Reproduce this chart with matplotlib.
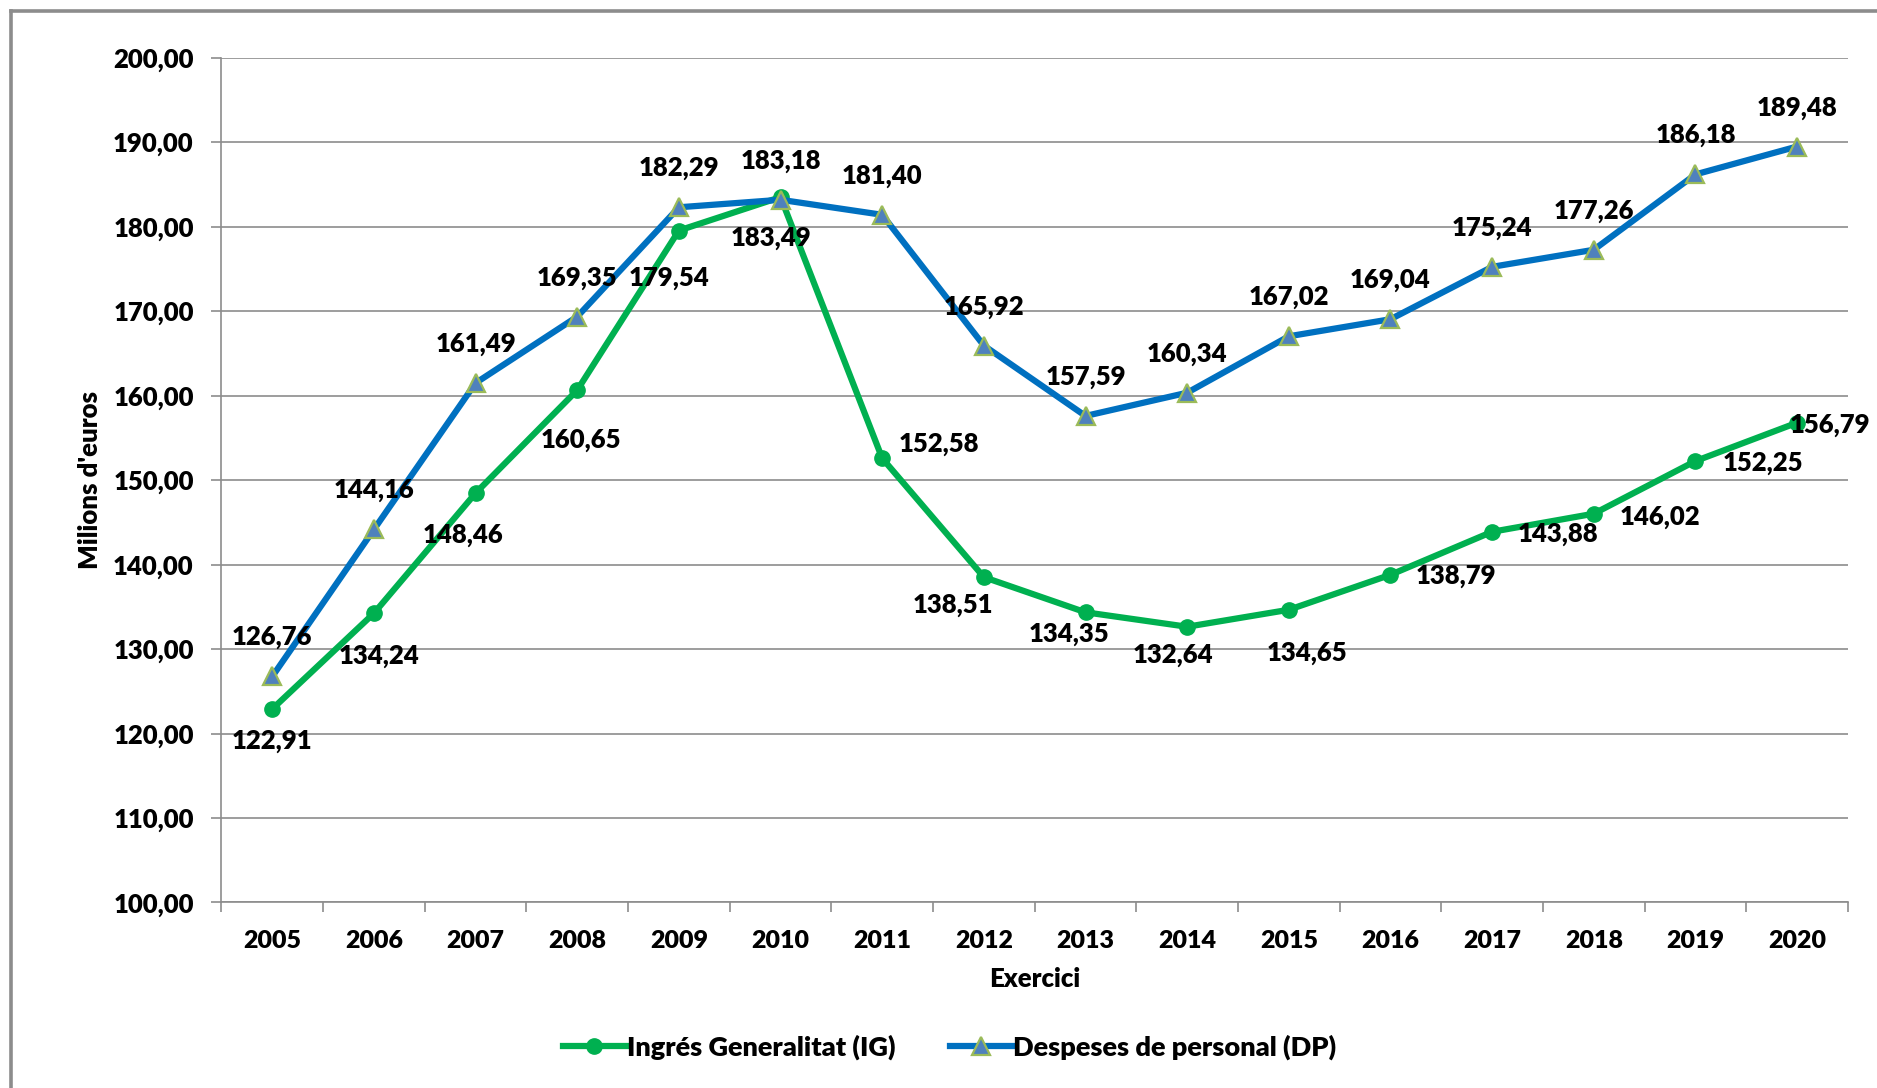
import numpy as np
import matplotlib
matplotlib.use('Agg')
import matplotlib.pyplot as plt
from matplotlib.lines import Line2D

plt.rcParams['font.family'] = ['Lato', 'DejaVu Sans']
W = 'heavy'
FS = 18.5

years = ['2005', '2006', '2007', '2008', '2009', '2010', '2011', '2012',
         '2013', '2014', '2015', '2016', '2017', '2018', '2019', '2020']
ingres_ig = [122.91, 134.24, 148.46, 160.65, 179.54, 183.49, 152.58, 138.51,
             134.35, 132.64, 134.65, 138.79, 143.88, 146.02, 152.25, 156.79]
despeses_dp = [126.76, 144.16, 161.49, 169.35, 182.29, 183.18, 181.40, 165.92,
               157.59, 160.34, 167.02, 169.04, 175.24, 177.26, 186.18, 189.48]

# label offsets (pixels) for the IG series, placed by hand in the original
ig_off = [(0, -32), (5, -43), (-13, -42), (4, -50), (-10, -47), (-10, -41),
          (57, 14), (-31, -28), (-17, -22), (-14, -28), (18, -43), (66, -1),
          (66, -2), (66, -3), (67, -2), (33, -2)]
dp_off = (0, 39)

green = '#00B050'
blue = '#0070C0'
grid_c = '#8C8C8C'

fig = plt.figure(figsize=(18.77, 10.88), dpi=100)
ax = fig.add_axes([0.118, 0.1705, 0.8665, 0.7765])

x = np.arange(len(years))
ax.plot(x, ingres_ig, color=green, lw=4.5, marker='o', ms=11,
        mfc=green, mec=green, label='Ingrés Generalitat (IG)', zorder=3)
ax.plot(x, despeses_dp, color=blue, lw=4.5, marker='^', ms=13,
        mfc='#4F81BD', mec='#9BBB59', mew=1.6,
        label='Despeses de personal (DP)', zorder=4)

def fmt(v):
    return ('%.2f' % v).replace('.', ',')

for i in range(len(years)):
    ax.annotate(fmt(ingres_ig[i]), (x[i], ingres_ig[i]), xytext=ig_off[i],
                textcoords='offset pixels', ha='center', va='center',
                fontsize=FS, fontweight=W, zorder=5)
    ax.annotate(fmt(despeses_dp[i]), (x[i], despeses_dp[i]), xytext=dp_off,
                textcoords='offset pixels', ha='center', va='center',
                fontsize=FS, fontweight=W, zorder=5)

yt = np.arange(100, 201, 10)
ax.set_xlim(-0.5, len(years) - 0.5)
ax.set_ylim(100, 200)
ax.set_yticks(yt)
ax.set_yticklabels([fmt(v) for v in yt])
ax.set_xticks(x)
ax.set_xticklabels(years)
ax.set_xticks(np.arange(-0.5, len(years), 1.0), minor=True)

ax.tick_params(axis='x', which='major', length=0, pad=20, labelsize=18)
ax.tick_params(axis='x', which='minor', length=7, width=1.2, color=grid_c, direction='out')
ax.tick_params(axis='y', length=7, width=1.2, color=grid_c, pad=13, labelsize=FS)
for lab in ax.get_xticklabels() + ax.get_yticklabels():
    lab.set_fontweight(W)

ax.grid(axis='y', color=grid_c, lw=1.2)
ax.set_axisbelow(True)
for s in ['top', 'right']:
    ax.spines[s].set_visible(False)
for s in ['left', 'bottom']:
    ax.spines[s].set_color(grid_c)
    ax.spines[s].set_linewidth(1.2)

ax.set_ylabel("Milions d'euros", fontsize=18.5, fontweight=W, va='center')
ax.yaxis.set_label_coords(-0.081, 0.5)
ax.set_xlabel('Exercici', fontsize=18.5, fontweight=W, va='center')
ax.xaxis.set_label_coords(0.5, -0.090)

fig.legend(loc='center', bbox_to_anchor=(0.506, 0.0375), ncol=2, frameon=False,
           handlelength=2.3, handletextpad=0.05, columnspacing=2.0,
           prop={'weight': W, 'size': 19.5})

# outer chart frame (cut on the right and bottom in the original)
fig.add_artist(Line2D([10.5 / 1877, 10.5 / 1877], [0, 1 - 10.5 / 1088],
                      transform=fig.transFigure, color='#8C8C8C', lw=2.6))
fig.add_artist(Line2D([10.5 / 1877, 1], [1 - 10.5 / 1088, 1 - 10.5 / 1088],
                      transform=fig.transFigure, color='#8C8C8C', lw=2.6))

fig.savefig('out.png', dpi=100)
